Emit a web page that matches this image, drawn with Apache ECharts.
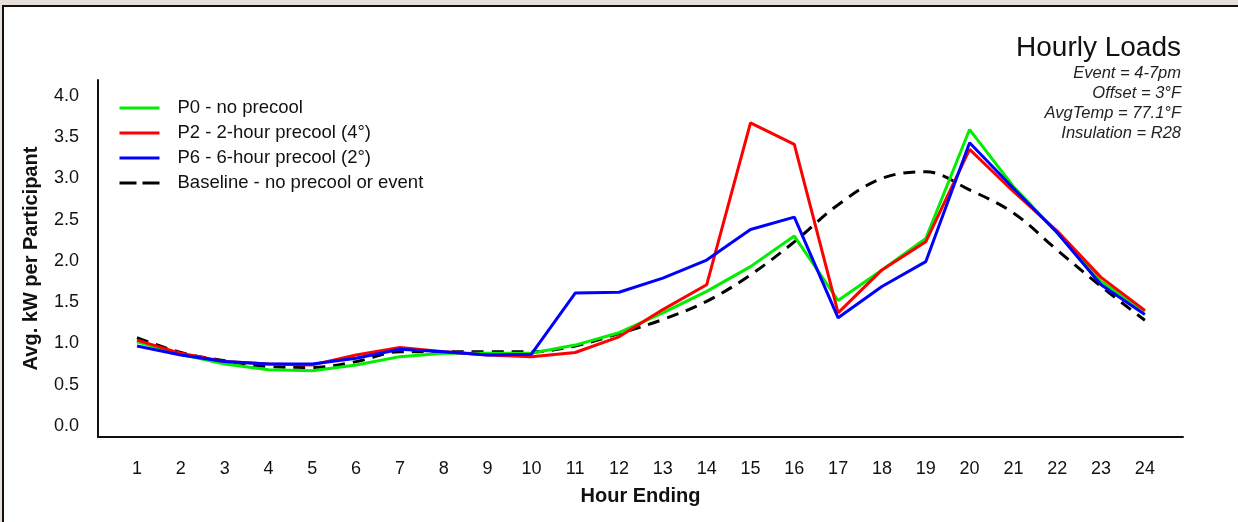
<!DOCTYPE html>
<html>
<head>
<meta charset="utf-8">
<script src="https://cdn.jsdelivr.net/npm/echarts@6/dist/echarts.min.js"></script>
<style>
  html, body { margin: 0; padding: 0; background: #fff; }
  #stripTop { position: absolute; left: 0; top: 0; width: 1238px; height: 5px; background: #e7dfd8; }
  #stripLeft { position: absolute; left: 0; top: 0; width: 2px; height: 522px; background: #e7dfd8; }
  #lineTop { position: absolute; left: 2px; top: 5px; width: 1236px; height: 2px; background: #111; }
  #lineLeft { position: absolute; left: 2px; top: 5px; width: 2px; height: 517px; background: #111; }
  #chart { position: absolute; left: 0; top: 0; width: 1238px; height: 522px; }
</style>
</head>
<body>
<div id="stripTop"></div>
<div id="stripLeft"></div>
<div id="lineTop"></div>
<div id="lineLeft"></div>
<div id="chart"></div>
<script>
var chart = echarts.init(document.getElementById('chart'));

var hours = [1, 2, 3, 4, 5, 6, 7, 8, 9, 10, 11, 12, 13, 14, 15, 16, 17, 18, 19, 20, 21, 22, 23, 24];
var yTicks = [0, 0.5, 1, 1.5, 2, 2.5, 3, 3.5, 4];

var p0 = [1.02, 0.87, 0.75, 0.68, 0.67, 0.74, 0.84, 0.88, 0.88, 0.88, 0.98, 1.13, 1.37, 1.63, 1.93, 2.30, 1.52, 1.89, 2.27, 3.59, 2.90, 2.34, 1.75, 1.39];
var p2 = [1.04, 0.88, 0.78, 0.75, 0.74, 0.86, 0.95, 0.90, 0.86, 0.84, 0.89, 1.08, 1.41, 1.71, 3.67, 3.41, 1.37, 1.89, 2.23, 3.35, 2.84, 2.36, 1.80, 1.40];
var p6 = [0.97, 0.86, 0.78, 0.75, 0.75, 0.82, 0.93, 0.90, 0.86, 0.87, 1.61, 1.62, 1.79, 2.01, 2.38, 2.53, 1.31, 1.69, 1.99, 3.43, 2.88, 2.34, 1.71, 1.35];
var baseline = [1.07, 0.89, 0.79, 0.72, 0.71, 0.78, 0.90, 0.90, 0.90, 0.90, 0.97, 1.12, 1.29, 1.51, 1.83, 2.23, 2.68, 3.00, 3.08, 2.86, 2.58, 2.13, 1.69, 1.28];

var names = [
    'P0 - no precool',
    'P2 - 2-hour precool (4°)',
    'P6 - 6-hour precool (2°)',
    'Baseline - no precool or event'
];

function pairs(vals) {
    var out = [];
    for (var i = 0; i < hours.length; i++) {
        out.push([hours[i], vals[i]]);
    }
    return out;
}

var font = 'Liberation Sans, Arial, sans-serif';

function lineSeries(name, vals, color, dashed) {
    return {
        name: name,
        type: 'line',
        data: pairs(vals),
        symbol: 'none',
        smooth: dashed ? 0.35 : false,
        lineStyle: { color: color, width: 3, type: dashed ? [12, 8] : 'solid' },
        itemStyle: { color: color },
        emphasis: { disabled: true },
        z: dashed ? 1 : 2
    };
}

var option = {
    animation: false,
    textStyle: { fontFamily: font },
    title: {
        text: 'Hourly Loads',
        subtext: 'Event = 4-7pm\nOffset = 3°F\nAvgTemp = 77.1°F\nInsulation = R28',
        left: 1181,
        top: 34,
        padding: 0,
        textAlign: 'right',
        itemGap: 1,
        textStyle: { fontFamily: font, fontSize: 28, fontWeight: 'normal', color: '#111' },
        subtextStyle: { fontFamily: font, fontSize: 16.5, fontStyle: 'italic', color: '#222', lineHeight: 20, align: 'right' }
    },
    legend: {
        orient: 'vertical',
        left: 118,
        top: 98,
        padding: 0,
        itemWidth: 40,
        itemHeight: 14,
        itemGap: 5,
        itemStyle: { opacity: 0 },
        lineStyle: { width: 3 },
        textStyle: { fontFamily: font, fontSize: 18.5, color: '#111', lineHeight: 20, padding: [0, 0, 0, 13] },
        data: [
            names[0],
            names[1],
            names[2],
            { name: names[3], lineStyle: { width: 3, type: [17, 6] } }
        ]
    },
    grid: { left: 98, right: 55, top: 80, bottom: 85, containLabel: false },
    xAxis: {
        type: 'value',
        min: 0.11,
        max: 24.87,
        name: 'Hour Ending',
        nameLocation: 'middle',
        nameGap: 49,
        nameTextStyle: { fontFamily: font, fontSize: 20, fontWeight: 'bold', color: '#111' },
        axisLine: { onZero: false, lineStyle: { color: '#111', width: 2 } },
        axisTick: { show: false },
        splitLine: { show: false },
        axisLabel: {
            customValues: hours,
            margin: 23,
            fontSize: 18,
            color: '#111',
            fontFamily: font
        }
    },
    yAxis: {
        type: 'value',
        min: -0.133,
        max: 4.19,
        name: 'Avg. kW per Participant',
        nameLocation: 'middle',
        nameGap: 57,
        nameTextStyle: { fontFamily: font, fontSize: 20, fontWeight: 'bold', color: '#111' },
        axisLine: { show: true, onZero: false, lineStyle: { color: '#111', width: 2 } },
        axisTick: { show: false },
        splitLine: { show: false },
        axisLabel: {
            customValues: yTicks,
            margin: 19,
            fontSize: 18,
            color: '#111',
            fontFamily: font,
            formatter: function (v) { return v.toFixed(1); }
        }
    },
    series: [
        lineSeries(names[0], p0, '#00ee00', false),
        lineSeries(names[1], p2, '#ff0000', false),
        lineSeries(names[2], p6, '#0000ff', false),
        lineSeries(names[3], baseline, '#000000', true)
    ]
};

chart.setOption(option);
</script>
</body>
</html>
